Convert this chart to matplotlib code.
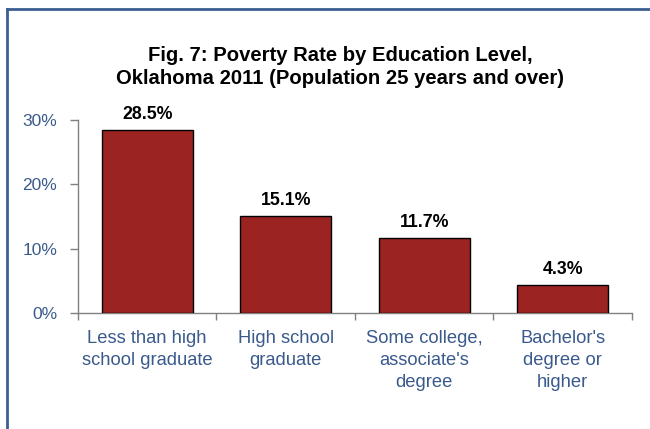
import matplotlib
matplotlib.use("Agg")
import matplotlib.pyplot as plt
from matplotlib.lines import Line2D
from matplotlib.ticker import FixedLocator, NullFormatter, FuncFormatter

categories = ["Less than high\nschool graduate", "High school\ngraduate",
              "Some college,\nassociate's\ndegree", "Bachelor's\ndegree or\nhigher"]
rates = [28.5, 15.1, 11.7, 4.3]
y_ticks = [0, 10, 20, 30]

plt.rcParams['font.family'] = ['Liberation Sans', 'DejaVu Sans']

bar_color = "#9B2322"
text_blue = "#3A5A8C"
frame_blue = "#3B5E94"
axis_grey = "#808080"

fig = plt.figure(figsize=(6.5, 4.29), dpi=100)
ax = fig.add_axes([0.12, 0.2704, 0.8523, 0.4499])

x = list(range(len(categories)))
ax.bar(x, rates, width=0.66, color=bar_color, edgecolor="black", linewidth=1.0, zorder=3)

for xi, v in zip(x, rates):
    ax.annotate(f"{v:.1f}%", (xi, v), xytext=(0, 5), textcoords="offset points",
                ha="center", va="bottom", fontsize=12.8, fontweight="bold", color="black")

ax.set_xlim(-0.5, len(categories) - 0.5)
ax.set_ylim(0, 30)
ax.set_yticks(y_ticks)
ax.yaxis.set_major_formatter(FuncFormatter(lambda v, p: f"{v:.0f}%"))
ax.tick_params(axis="y", direction="out", length=6, width=1, color=axis_grey,
               labelsize=12.5, labelcolor=text_blue, pad=9)

# category boundaries carry the tick marks; labels sit at the centres
ax.xaxis.set_major_locator(FixedLocator([i - 0.5 for i in range(len(categories) + 1)]))
ax.xaxis.set_major_formatter(NullFormatter())
ax.xaxis.set_minor_locator(FixedLocator(x))
ax.set_xticklabels(categories, minor=True)
ax.tick_params(axis="x", which="major", direction="out", length=5, width=1, color=axis_grey)
ax.tick_params(axis="x", which="minor", length=0, labelsize=13.2, labelcolor=text_blue, pad=12)
for lbl in ax.get_xticklabels(minor=True):
    lbl.set_linespacing(1.4)

for side in ["top", "right"]:
    ax.spines[side].set_visible(False)
for side in ["left", "bottom"]:
    ax.spines[side].set_color(axis_grey)
    ax.spines[side].set_linewidth(1)

fig.text(0.523, 1 - 67 / 429, "Fig. 7: Poverty Rate by Education Level,\nOklahoma 2011 (Population 25 years and over)",
         ha="center", va="center", fontsize=14.6, fontweight="bold", linespacing=1.3)

# frame lines along the top and left edges
fig.add_artist(Line2D([6.5 / 650, 1.0], [1 - 8.5 / 429, 1 - 8.5 / 429],
                      transform=fig.transFigure, color=frame_blue, linewidth=2))
fig.add_artist(Line2D([6.5 / 650, 6.5 / 650], [0, 1 - 8.5 / 429],
                      transform=fig.transFigure, color=frame_blue, linewidth=2))

fig.savefig("out.png", dpi=100)
